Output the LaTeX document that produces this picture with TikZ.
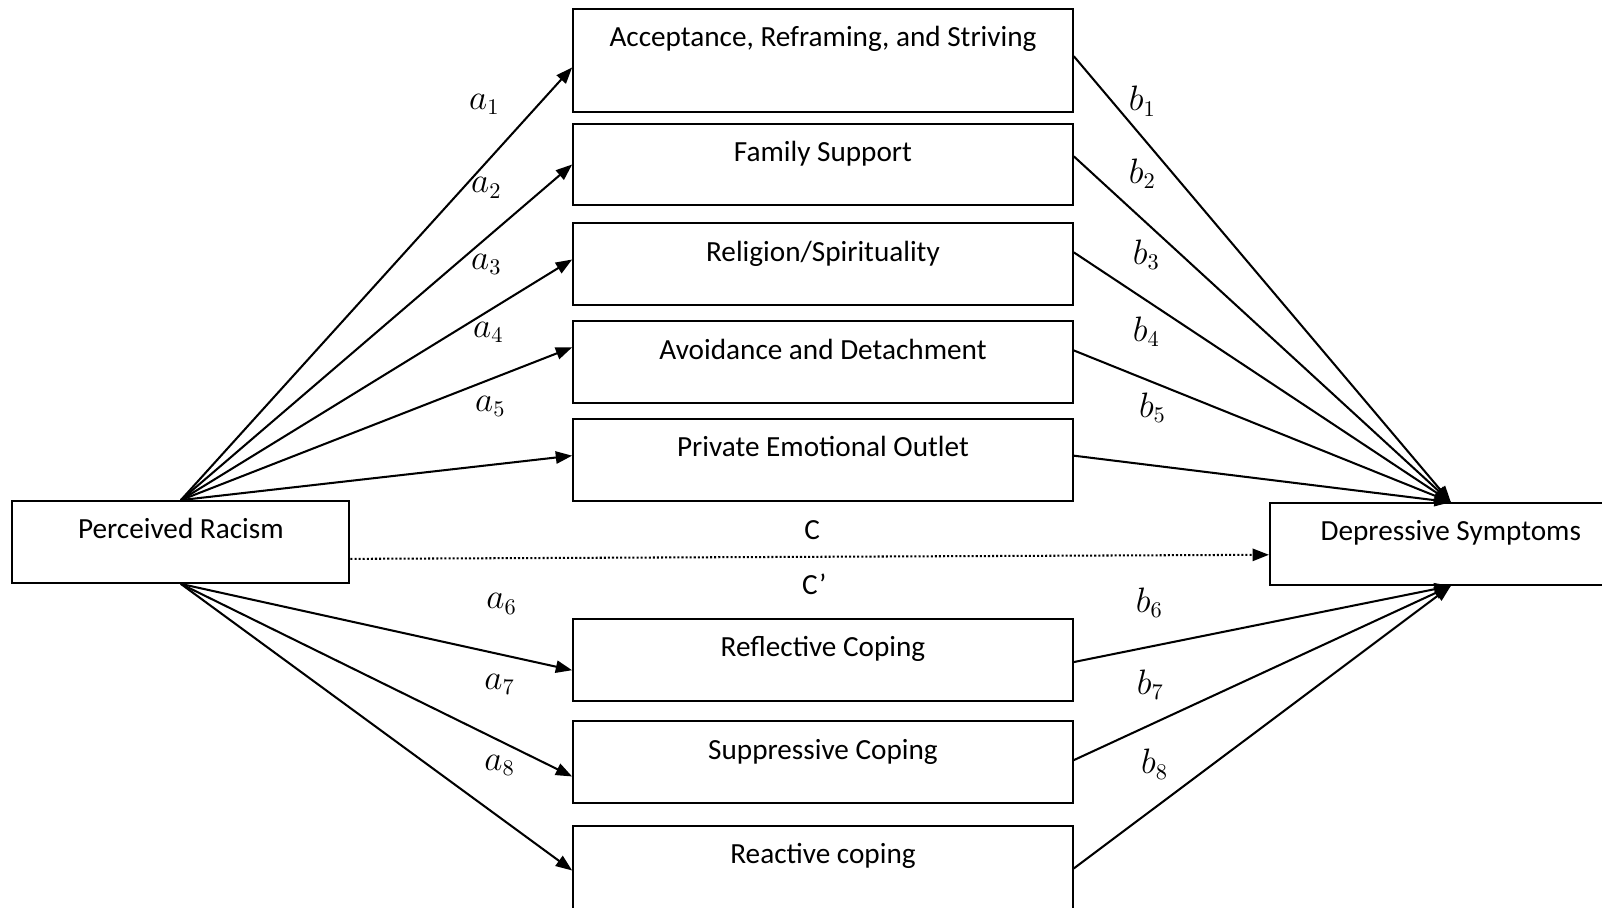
\documentclass[tikz,border=0pt]{standalone}
\usepackage{fontspec}
\setmainfont{Carlito}
\usetikzlibrary{arrows.meta}

\begin{document}
\begin{tikzpicture}[x=0.5pt,y=-0.5pt,
    every node/.style={font=\fontsize{14.3}{16}\selectfont},
    box/.style={draw, line width=1pt, inner sep=0pt, minimum width=244.5pt, text height=18.5pt, text depth=21.5pt},
    path/.style={line width=1pt, -{Triangle[length=8pt,width=6pt]}},
    coef/.style={font=\fontsize{16}{18}\selectfont}]
    \useasboundingbox (0,0) rectangle (1568,888);
    \node[box, minimum width=165pt] (racism) at (177,530.5) {Perceived Racism};
    \node[box, minimum width=177pt] (depress) at (1420,532.5) {Depressive Symptoms\hspace{12pt}};
    \node[box, text depth=32pt] (accept) at (805.5,59.5) {Acceptance, Reframing, and Striving};
    \node[box] (family) at (805.5,161) {Family Support};
    \node[box] (relig) at (805.5,258.5) {Religion/Spirituality};
    \node[box] (avoid) at (805.5,354.5) {Avoidance and Detachment};
    \node[box] (outlet) at (805.5,450) {Private Emotional Outlet};
    \node[box] (reflect) at (805.5,646) {Reflective Coping};
    \node[box] (suppress) at (805.5,746) {Suppressive Coping};
    \node[box, text depth=23.5pt] (react) at (805.5,850) {Reactive coping};
    % a paths
    \draw[path] (racism.north) -- ([yshift=-3.25pt]accept.west);
    \draw[path] (racism.north) -- (family.west);
    \draw[path] (racism.north) -- ([yshift=2.25pt]relig.west);
    \draw[path] (racism.north) -- ([yshift=7.25pt]avoid.west);
    \draw[path] (racism.north) -- ([yshift=2pt]outlet.west);
    \draw[path] (racism.south) -- ([yshift=-5pt]reflect.west);
    \draw[path] (racism.south) -- ([yshift=-7pt]suppress.west);
    \draw[path] (racism.south) -- ([yshift=-1pt]react.west);
    % b paths
    \draw[path] ([yshift=2.25pt]accept.east) -- (depress.north);
    \draw[path] ([yshift=4pt]family.east) -- (depress.north);
    \draw[path] ([yshift=5.75pt]relig.east) -- (depress.north);
    \draw[path] ([yshift=5.75pt]avoid.east) -- (depress.north);
    \draw[path] ([yshift=2pt]outlet.east) -- (depress.north);
    \draw[path] ([yshift=-1pt]reflect.east) -- (depress.south);
    \draw[path] ([yshift=1pt]suppress.east) -- (depress.south);
    \draw[path] (react.east) -- (depress.south);
    % direct path
    \draw[path, densely dotted] ([yshift=-8.25pt]racism.east) -- ([yshift=-5.25pt]depress.west);
    \node (c) at (795,519) {C};
    \node (cprime) at (797,572) {C’};
    % coefficients
    \node[coef] (a1) at (474,102) {$a_1$};
    \node[coef] (a2) at (476,184) {$a_2$};
    \node[coef] (a3) at (476,259) {$a_3$};
    \node[coef] (a4) at (478,325) {$a_4$};
    \node[coef] (a5) at (480,398) {$a_5$};
    \node[coef] (a6) at (491,591) {$a_6$};
    \node[coef] (a7) at (489,670) {$a_7$};
    \node[coef] (a8) at (489,749) {$a_8$};
    \node[coef] (b1) at (1118,99) {$b_1$};
    \node[coef] (b2) at (1118,170) {$b_2$};
    \node[coef] (b3) at (1122,249) {$b_3$};
    \node[coef] (b4) at (1122,325) {$b_4$};
    \node[coef] (b5) at (1128,399) {$b_5$};
    \node[coef] (b6) at (1125,590) {$b_6$};
    \node[coef] (b7) at (1126,670) {$b_7$};
    \node[coef] (b8) at (1130,748) {$b_8$};
\end{tikzpicture}
\end{document}
